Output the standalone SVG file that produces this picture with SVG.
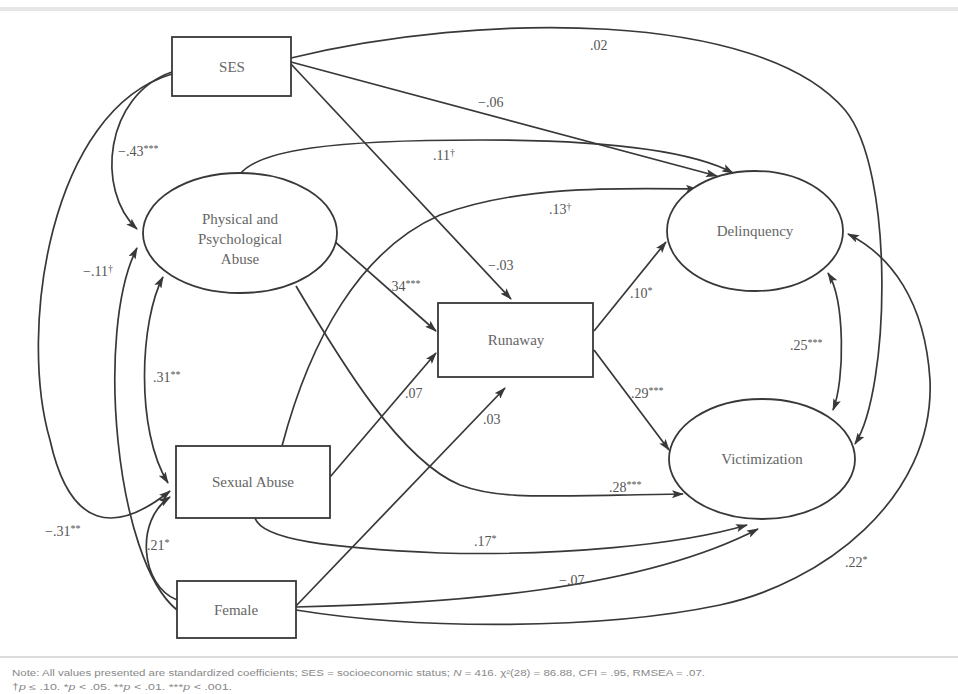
<svg xmlns="http://www.w3.org/2000/svg" width="958" height="694" viewBox="0 0 958 694">
  <defs>
    <marker id="arrow" viewBox="0 0 12 8" refX="11" refY="4" markerWidth="12" markerHeight="8" markerUnits="userSpaceOnUse" orient="auto-start-reverse">
      <path d="M0,0 L12,4 L0,8 L2.5,4 z" fill="#383838"/>
    </marker>
    <style>
      .box { fill: #fff; stroke: #383838; stroke-width: 1.8; }
      .serif { font-family: "Liberation Serif", "DejaVu Serif", "Noto Serif", "Times New Roman", Times, serif; }
      .node-label { font-size: 15px; fill: #666; text-anchor: middle; }
      .edge { fill: none; stroke: #383838; stroke-width: 1.7; marker-end: url(#arrow); }
      .both { marker-start: url(#arrow); }
      .coef { font-size: 14px; fill: #555; }
      .sig { font-size: 10px; }
      .note { font-family: "Liberation Sans", Arial, sans-serif; font-size: 8.5px; fill: #888; }
    </style>
  </defs>
  <rect width="958" height="694" fill="#fff"/>
  <line x1="0" y1="9" x2="958" y2="9" stroke="#e6e6e6" stroke-width="4"/>

  <!-- connectors -->
  <g id="connectors">
    <path class="edge" d="M291,58 C480,12 760,10 845,110 C895,170 890,390 855,444"/>
    <path class="edge" d="M291,62 L717,176"/>
    <path class="edge" d="M291,64 L511,299"/>
    <path class="edge" d="M172,72 C105,95 95,190 137,229"/>
    <path class="edge" d="M172,74 C50,110 18,330 50,440 C70,530 115,535 170,491"/>
    <path class="edge" d="M177,610 C115,560 95,330 137,248"/>
    <path class="edge both" d="M163,277 C140,320 135,430 168,483"/>
    <path class="edge" d="M177,600 C140,585 135,520 170,497"/>
    <path class="edge" d="M240,174 C260,150 330,140 480,140 C600,140 690,150 733,173"/>
    <path class="edge" d="M282,446 C310,340 360,250 440,215 C520,185 620,188 697,189"/>
    <path class="edge" d="M296,286 C340,360 400,460 460,485 C500,500 540,496 683,494"/>
    <path class="edge" d="M333,240 L436,331"/>
    <path class="edge" d="M330,477 L436,353"/>
    <path class="edge" d="M296,606 L505,388"/>
    <path class="edge" d="M255,518 C262,540 330,548 440,553 C560,556 680,545 747,525"/>
    <path class="edge" d="M296,607 C450,604 640,590 758,529"/>
    <path class="edge" d="M296,610 C420,630 600,630 720,605 C820,584 935,500 930,380 C925,300 890,255 848,234"/>
    <path class="edge" d="M594,331 L666,242"/>
    <path class="edge" d="M594,350 L669,450"/>
    <path class="edge both" d="M828,273 C845,300 845,380 833,410"/>
  </g>

  <!-- path coefficients -->
  <g id="coefficients" class="serif">
    <text class="coef" x="590" y="50">.02</text>
    <text class="coef" x="478" y="107">−.06</text>
    <text class="coef" x="488" y="270">−.03</text>
    <text class="coef" x="118" y="156">−.43<tspan class="sig" dy="-4">***</tspan></text>
    <text class="coef" x="83" y="276">−.11<tspan class="sig" dy="-4">†</tspan></text>
    <text class="coef" x="153" y="382">.31<tspan class="sig" dy="-4">**</tspan></text>
    <text class="coef" x="45" y="536">−.31<tspan class="sig" dy="-4">**</tspan></text>
    <text class="coef" x="147" y="550">.21<tspan class="sig" dy="-4">*</tspan></text>
    <text class="coef" x="433" y="160">.11<tspan class="sig" dy="-4">†</tspan></text>
    <text class="coef" x="549" y="214">.13<tspan class="sig" dy="-4">†</tspan></text>
    <text class="coef" x="388" y="291">.34<tspan class="sig" dy="-4">***</tspan></text>
    <text class="coef" x="405" y="398">.07</text>
    <text class="coef" x="483" y="424">.03</text>
    <text class="coef" x="630" y="298">.10<tspan class="sig" dy="-4">*</tspan></text>
    <text class="coef" x="631" y="398">.29<tspan class="sig" dy="-4">***</tspan></text>
    <text class="coef" x="790" y="350">.25<tspan class="sig" dy="-4">***</tspan></text>
    <text class="coef" x="609" y="492">.28<tspan class="sig" dy="-4">***</tspan></text>
    <text class="coef" x="474" y="546">.17<tspan class="sig" dy="-4">*</tspan></text>
    <text class="coef" x="559" y="585">−.07</text>
    <text class="coef" x="845" y="567">.22<tspan class="sig" dy="-4">*</tspan></text>
  </g>

  <!-- nodes -->
  <g id="nodes" class="serif">
    <g id="ses">
      <rect class="box" x="172" y="37" width="119" height="59"/>
      <text class="node-label" x="232" y="72">SES</text>
    </g>
    <g id="physical-abuse">
      <ellipse class="box" cx="240" cy="233" rx="97" ry="60"/>
      <text class="node-label" x="240" y="224">Physical and</text>
      <text class="node-label" x="240" y="244">Psychological</text>
      <text class="node-label" x="240" y="264">Abuse</text>
    </g>
    <g id="sexual-abuse">
      <rect class="box" x="176" y="446" width="154" height="72"/>
      <text class="node-label" x="253" y="487">Sexual Abuse</text>
    </g>
    <g id="female">
      <rect class="box" x="177" y="581" width="119" height="57"/>
      <text class="node-label" x="236" y="615">Female</text>
    </g>
    <g id="runaway">
      <rect class="box" x="438" y="303" width="155" height="74"/>
      <text class="node-label" x="516" y="345">Runaway</text>
    </g>
    <g id="delinquency">
      <ellipse class="box" cx="755" cy="231" rx="88" ry="60"/>
      <text class="node-label" x="755" y="236">Delinquency</text>
    </g>
    <g id="victimization">
      <ellipse class="box" cx="762" cy="459" rx="93" ry="60"/>
      <text class="node-label" x="762" y="464">Victimization</text>
    </g>
  </g>

  <!-- table note -->
  <line x1="0" y1="657" x2="958" y2="657" stroke="#cfcfcf" stroke-width="1.5"/>
  <text class="note" x="12" y="676" textLength="693" lengthAdjust="spacingAndGlyphs">Note: All values presented are standardized coefficients; SES = socioeconomic status; <tspan font-style="italic">N</tspan> = 416. χ²(28) = 86.88, CFI = .95, RMSEA = .07.</text>
  <text class="note" x="12" y="690" textLength="220" lengthAdjust="spacingAndGlyphs">†<tspan font-style="italic">p</tspan> ≤ .10. *<tspan font-style="italic">p</tspan> &lt; .05. **<tspan font-style="italic">p</tspan> &lt; .01. ***<tspan font-style="italic">p</tspan> &lt; .001.</text>
</svg>
